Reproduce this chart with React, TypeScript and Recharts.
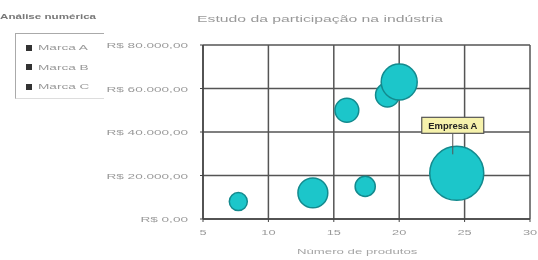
import React from 'react';
import { ScatterChart, Scatter, XAxis, YAxis, ZAxis, CartesianGrid, LabelList } from 'recharts';

const produtos = [7.7, 13.4, 17.4, 16.0, 19.1, 20.0, 24.4];
const receita = [8000, 12000, 15000, 50000, 57000, 63000, 21000];
const participacao = [8, 22, 10, 14, 14, 32, 72];
const rotulos = ['', '', '', '', '', '', 'Empresa A'];
const marcas = ['Marca A', 'Marca B', 'Marca C'];
const xTicks = [5, 10, 15, 20, 25, 30];
const yTicks = [0, 20000, 40000, 60000, 80000];
const yTickLabels = ['R$ 0,00', 'R$ 20.000,00', 'R$ 40.000,00', 'R$ 60.000,00', 'R$ 80.000,00'];

const data = produtos.map((p, i) => ({ x: p, y: receita[i], z: participacao[i], label: rotulos[i] }));

const FONT = '"Liberation Sans", Arial, sans-serif';
const SX = 1.6;

const YTick = (props: any) => {
  const { x, y, payload } = props;
  const label = yTickLabels[yTicks.indexOf(payload.value)];
  return (
    <text transform={`translate(${x},${y + 3}) scale(1.7,1)`} textAnchor="end" fontSize={8} fill="#9a9a9a" fontFamily={FONT}>
      {label}
    </text>
  );
};

const XTick = (props: any) => {
  const { x, y, payload } = props;
  return (
    <text transform={`translate(${x},${y + 8}) scale(${SX},1)`} textAnchor="middle" fontSize={8} fill="#9a9a9a" fontFamily={FONT}>
      {payload.value}
    </text>
  );
};

const CalloutLabel = (props: any) => {
  const { value } = props;
  if (!value) return null;
  const vb = props.viewBox || props;
  const cx = vb.x + (vb.width || 0) / 2;
  const top = vb.y;
  const w = 62;
  const h = 16;
  const by = top - 13 - h;
  return (
    <g>
      <line x1={cx - 4} y1={by + h} x2={cx - 4} y2={top + 8} stroke="#555" strokeWidth={1} />
      <rect x={cx - 4 - w / 2} y={by} width={w} height={h} fill="#F6F2AC" stroke="#555" strokeWidth={1.2} />
      <text transform={`translate(${cx - 4},${by + 11.5}) scale(1.05,1)`} textAnchor="middle" fontSize={9} fontWeight="bold" fill="#222" fontFamily={FONT}>
        {value}
      </text>
    </g>
  );
};

const stretch = (s: number): React.CSSProperties => ({ transform: `scaleX(${s})`, transformOrigin: 'left center', whiteSpace: 'nowrap' });

export default function App() {
  return (
    <div style={{ position: 'absolute', left: 0, top: 0, width: 538, height: 260, background: '#fff', fontFamily: FONT, overflow: 'hidden', filter: 'blur(0.55px)' }}>
      <div style={{ position: 'absolute', left: 0, top: 12, fontSize: 8, color: '#777', fontWeight: 'bold', ...stretch(1.45) }}>
        Análise numérica
      </div>
      <div style={{ position: 'absolute', left: 15, top: 33, width: 88, height: 64, borderTop: '1px solid #aaa', borderLeft: '1px solid #aaa', borderBottom: '1px solid #ddd' }}>
        {marcas.map((m, i) => (
          <div key={m} style={{ position: 'absolute', left: 10, top: 9 + i * 19.5, fontSize: 8, color: '#999', whiteSpace: 'nowrap', lineHeight: '10px' }}>
            <span style={{ display: 'inline-block', width: 6, height: 6, background: '#333', verticalAlign: 'middle' }} />
            <span style={{ display: 'inline-block', marginLeft: 6, ...stretch(1.7) }}>{m}</span>
          </div>
        ))}
      </div>
      <div style={{ position: 'absolute', left: 197, top: 14, fontSize: 9, color: '#999', ...stretch(1.75) }}>
        Estudo da participação na indústria
      </div>
      <div style={{ position: 'absolute', left: 297, top: 247, fontSize: 8, color: '#a5a5a5', ...stretch(1.65) }}>
        Número de produtos
      </div>
      <ScatterChart width={538} height={260} margin={{ top: 45, right: 8, bottom: 11, left: 0 }} style={{ position: 'absolute', left: 0, top: 0 }}>
        <CartesianGrid stroke="#555" strokeWidth={1.5} fill="#fff" />
        <XAxis
          type="number"
          dataKey="x"
          domain={[5, 30]}
          ticks={xTicks}
          height={30}
          tick={<XTick />}
          axisLine={{ stroke: '#444', strokeWidth: 1.5 }}
          tickLine={{ stroke: '#444' }}
          tickSize={3}
          tickMargin={5}
        />
        <YAxis
          type="number"
          dataKey="y"
          domain={[0, 80000]}
          ticks={yTicks}
          width={203}
          tick={<YTick />}
          axisLine={{ stroke: '#444', strokeWidth: 1.5 }}
          tickLine={{ stroke: '#444' }}
          tickSize={3}
          tickMargin={12}
        />
        <ZAxis type="number" dataKey="z" domain={[0, 72]} range={[0, 2290]} />
        <Scatter data={data} fill="#1CC6CA" stroke="#138A8E" strokeWidth={1.5} isAnimationActive={false}>
          <LabelList dataKey="label" content={CalloutLabel} />
        </Scatter>
      </ScatterChart>
    </div>
  );
}
